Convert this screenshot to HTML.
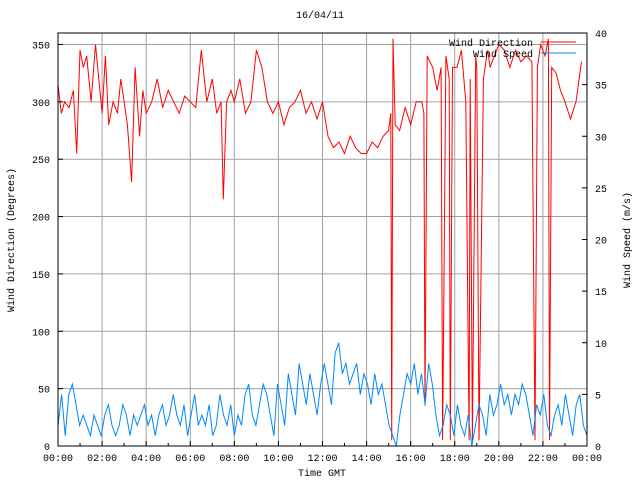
<!DOCTYPE html>
<html><head><meta charset="utf-8"><style>
body{margin:0;background:#fff}
svg text{font-family:"Liberation Mono","DejaVu Sans Mono",monospace;font-size:10px;fill:#000}
</style></head><body>
<svg id="chart" width="640" height="480" viewBox="0 0 640 480">
<rect width="640" height="480" fill="#fff"/>
<g id="grid"></g>
<g id="series"></g>
<g id="axes"></g>
<text x="320" y="18" text-anchor="middle">16/04/11</text>
<text x="322" y="476" text-anchor="middle">Time GMT</text>
<text transform="translate(14,240) rotate(-90)" text-anchor="middle">Wind Direction (Degrees)</text>
<text transform="translate(630,240) rotate(-90)" text-anchor="middle">Wind Speed (m/s)</text>
<g>
<text x="533" y="46" text-anchor="end">Wind Direction</text>
<line x1="541" y1="42" x2="576" y2="42" stroke="#f00"/>
<text x="533" y="57" text-anchor="end">Wind Speed</text>
<line x1="541" y1="53" x2="576" y2="53" stroke="#08f"/>
</g>
</svg>
<script>
const dirTimes=[0,0.15,0.3,0.5,0.7,0.85,1.0,1.15,1.3,1.5,1.7,1.85,2.0,2.15,2.3,2.5,2.7,2.85,3.0,3.15,3.34,3.5,3.7,3.85,4.0,4.25,4.5,4.75,5.0,5.25,5.5,5.75,6.0,6.25,6.5,6.75,7.0,7.2,7.4,7.5,7.65,7.85,8.0,8.25,8.5,8.75,9.0,9.25,9.5,9.75,10.0,10.25,10.5,10.75,11.0,11.25,11.5,11.75,12.0,12.25,12.5,12.75,13.0,13.25,13.5,13.75,14.0,14.25,14.5,14.75,15.0,15.1,15.14,15.2,15.3,15.5,15.75,16.0,16.25,16.5,16.6,16.65,16.75,17.0,17.2,17.38,17.45,17.6,17.75,17.8,17.9,18.1,18.3,18.5,18.65,18.7,18.8,18.95,19.0,19.1,19.3,19.45,19.5,19.6,19.8,20.0,20.25,20.5,20.75,21.0,21.25,21.5,21.64,21.75,21.9,22.1,22.25,22.3,22.4,22.6,22.8,23.0,23.25,23.5,23.75,24.0];
const dirValues=[315,290,300,295,310,255,345,330,340,300,350,320,290,340,280,300,290,320,300,280,230,330,270,310,290,300,320,295,310,300,290,305,300,295,345,300,320,290,300,215,300,310,300,320,290,300,345,330,300,290,300,280,295,300,310,290,300,285,300,270,260,265,255,270,260,255,255,265,260,270,275,290,5,355,280,275,295,280,300,300,290,35,340,330,310,330,5,340,320,5,330,330,345,300,5,320,5,340,330,5,320,340,345,330,340,350,345,330,345,335,340,335,5,330,350,340,355,5,330,325,310,300,285,300,335];
const spdTimes=[];
const spdValues=[2,5,1,5,6,4,2,3,2,1,3,2,1,3,4,2,1,2,4,3,1,3,2,3,4,2,3,1,3,4,2,3,5,3,2,4,1,3,5,2,3,2,4,1,2,5,3,2,4,1,3,2,5,6,3,2,4,6,5,3,1,6,4,2,7,5,3,8,6,4,7,5,3,6,8,6,4,9,10,7,8,6,7,8,5,7,6,4,7,5,6,4,2,1,0,3,5,7,6,8,5,7,4,8,6,3,1,2,4,3,1,4,2,1,3,0,2,4,3,1,5,3,4,6,4,5,3,5,4,6,5,3,1,4,3,5,2,1,3,4,2,5,3,1,4,5,2,1];
for(let i=0;i<spdValues.length;i++) spdTimes.push(i*24/(spdValues.length-1));
const leftTicks=[0,50,100,150,200,250,300,350];
const rightTicks=[0,5,10,15,20,25,30,35,40];
const xTickLabels=["00:00","02:00","04:00","06:00","08:00","10:00","12:00","14:00","16:00","18:00","20:00","22:00","00:00"];
const X0=58,X1=587,Y0=446,Y1=33,NS="http://www.w3.org/2000/svg";
const xs=h=>X0+(X1-X0)*h/24, yl=v=>Y0-(Y0-Y1)*v/360, yr=v=>Y0-(Y0-Y1)*v/40;
function mk(t,a,p){const e=document.createElementNS(NS,t);for(const k in a)e.setAttribute(k,a[k]);p.appendChild(e);return e;}
const grid=document.getElementById('grid'),axes=document.getElementById('axes'),ser=document.getElementById('series');
leftTicks.forEach(v=>{const y=yl(v);
 if(v>0){const g=mk('line',{x1:X0,x2:X1,y1:y,y2:y,stroke:'#a0a0a0'},grid);
 
 }
 mk('line',{x1:X0,x2:X0+5,y1:y,y2:y,stroke:'#000'},axes);
 const t=mk('text',{x:X0-8,y:y+4,'text-anchor':'end'},axes);t.textContent=v;
 
 });
rightTicks.forEach(v=>{const y=yr(v);
 mk('line',{x1:X1-5,x2:X1,y1:y,y2:y,stroke:'#000'},axes);
 const t=mk('text',{x:X1+8,y:y+4,'text-anchor':'start'},axes);t.textContent=v;
 
 });
xTickLabels.forEach((l,i)=>{const x=xs(i*2);
 if(i>0&&i<12){const g=mk('line',{x1:x,x2:x,y1:Y1,y2:Y0,stroke:'#a0a0a0'},grid);
 
 }
 mk('line',{x1:x,x2:x,y1:Y0,y2:Y0-5,stroke:'#000'},axes);
 if(i<12)mk('line',{x1:xs(i*2+1),x2:xs(i*2+1),y1:Y0,y2:Y0-3,stroke:'#000'},axes);
 const t=mk('text',{x:x,y:Y0+15,'text-anchor':'middle'},axes);t.textContent=l;
 
 });
const fr=mk('rect',{x:X0,y:Y1,width:X1-X0,height:Y0-Y1,fill:'none',stroke:'#000'},axes);


const pd=mk('polyline',{points:dirTimes.map((t,i)=>xs(t).toFixed(1)+','+yl(dirValues[i]).toFixed(1)).join(' '),fill:'none',stroke:'#f00','stroke-width':1},ser);


const ps=mk('polyline',{points:spdTimes.map((t,i)=>xs(t).toFixed(1)+','+yr(spdValues[i]).toFixed(1)).join(' '),fill:'none',stroke:'#08f','stroke-width':1},ser);


</script>
</body></html>
